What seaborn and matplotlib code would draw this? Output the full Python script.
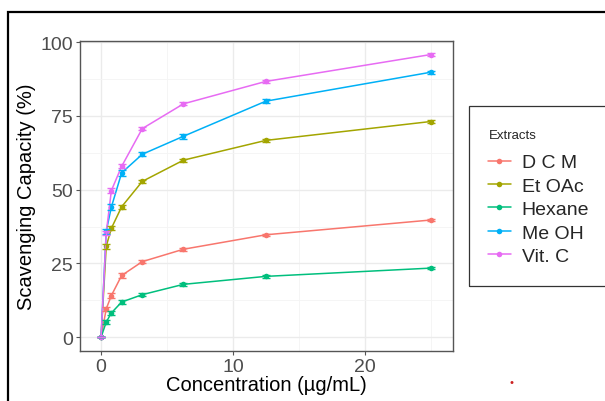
import numpy as np
import pandas as pd
import matplotlib
matplotlib.use("Agg")
import matplotlib.pyplot as plt
import seaborn as sns
from matplotlib.patches import Rectangle
from matplotlib.ticker import MultipleLocator

# concentrations (ug/mL)
conc = [0, 0.39, 0.78, 1.56, 3.125, 6.25, 12.5, 25]

extracts = ["D C M", "Et OAc", "Hexane", "Me OH", "Vit. C"]
dcm = [0, 9.6, 14.1, 20.9, 25.6, 29.8, 34.7, 39.7]
etoac = [0, 30.8, 36.9, 44.2, 52.8, 60.0, 66.7, 73.1]
hexane = [0, 5.1, 8.2, 11.9, 14.4, 17.9, 20.6, 23.4]
meoh = [0, 35.9, 44.1, 55.7, 62.0, 68.1, 80.0, 89.8]
vitc = [0, 35.3, 49.7, 57.9, 70.7, 79.1, 86.7, 95.8]

# standard deviations (small, shown as error bar caps)
sd_dcm = [0, 0.6, 0.8, 0.7, 0.5, 0.5, 0.4, 0.4]
sd_etoac = [0, 0.8, 0.7, 0.6, 0.6, 0.5, 0.5, 0.5]
sd_hexane = [0, 0.7, 0.8, 0.6, 0.5, 0.4, 0.4, 0.4]
sd_meoh = [0, 0.9, 1.0, 0.9, 0.7, 0.8, 0.6, 0.5]
sd_vitc = [0, 0.7, 0.8, 0.7, 0.6, 0.5, 0.5, 0.5]

palette = ["#F8766D", "#A3A500", "#00BF7D", "#00B0F6", "#E76BF3"]

values = [dcm, etoac, hexane, meoh, vitc]
sds = [sd_dcm, sd_etoac, sd_hexane, sd_meoh, sd_vitc]

rows = []
for name, v, s in zip(extracts, values, sds):
    for c, y, e in zip(conc, v, s):
        rows.append({"Concentration": c, "Scavenging": y, "sd": e, "Extracts": name})
df = pd.DataFrame(rows)

sns.set_theme(style="whitegrid")
plt.rcParams["font.family"] = ["Liberation Sans", "DejaVu Sans"]

fig = plt.figure(figsize=(6.05, 4.02), dpi=100)
ax = fig.add_axes([80 / 605, 50 / 402, 373 / 605, 310 / 402])

sns.lineplot(data=df, x="Concentration", y="Scavenging", hue="Extracts",
             hue_order=extracts, palette=palette, marker="o", markersize=4,
             markeredgewidth=0, linewidth=1.1, ax=ax, legend=True)

for name, col in zip(extracts, palette):
    d = df[df.Extracts == name]
    ax.errorbar(d.Concentration, d.Scavenging, yerr=d.sd, fmt="none",
                ecolor=col, elinewidth=1.0, capsize=3, capthick=1.0)

ax.set_xlim(-1.6, 26.7)
ax.set_ylim(-4.7, 100.4)
ax.xaxis.set_major_locator(MultipleLocator(10))
ax.xaxis.set_minor_locator(MultipleLocator(5))
ax.yaxis.set_major_locator(MultipleLocator(25))
ax.yaxis.set_minor_locator(MultipleLocator(12.5))
ax.grid(which="major", color="#EBEBEB", linewidth=1.0)
ax.grid(which="minor", color="#F4F4F4", linewidth=0.6)
for sp in ax.spines.values():
    sp.set_color("#555555")
    sp.set_linewidth(1.0)
ax.tick_params(axis="both", which="major", labelsize=14, labelcolor="#4D4D4D",
               length=3, width=0.8, color="#555555", pad=2, bottom=True, left=True)
ax.tick_params(which="minor", length=0)
ax.set_xlabel("Concentration (µg/mL)", fontsize=14.5, color="black", labelpad=0)
ax.set_ylabel("Scavenging Capacity (%)", fontsize=14.5, color="black", labelpad=3)

# legend
handles, labels = ax.get_legend_handles_labels()
ax.get_legend().remove()
fig.patches.append(Rectangle((469 / 605, (402 - 287) / 402), 0.5, 180 / 402,
                             transform=fig.transFigure, fill=False,
                             edgecolor="#333333", linewidth=0.9))
fig.text(489 / 605, 1 - 136 / 402, "Extracts", fontsize=9.5, ha="left", va="center")
leg = fig.legend(handles, labels, loc="upper left",
                 bbox_to_anchor=(478 / 605, 1 - 145 / 402), frameon=False,
                 fontsize=14, handlelength=1.2,
                 labelspacing=0.3, handletextpad=0.55, borderpad=0)

# outer frame and stray dot
fig.patches.append(Rectangle((8 / 605, -0.2), 1.2, 1.2 - 13 / 402,
                             transform=fig.transFigure, fill=False,
                             edgecolor="black", linewidth=1.6))
fig.text(512 / 605, 1 - 383 / 402, "•", color="#CC2222", fontsize=8,
         ha="center", va="center")

fig.savefig("out.png", dpi=100)
